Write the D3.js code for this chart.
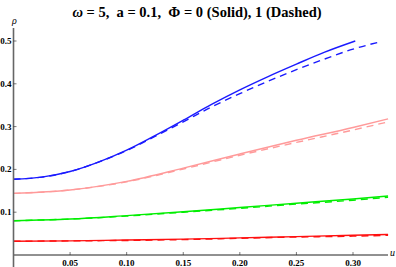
<!DOCTYPE html>
<html>
<head>
<meta charset="utf-8">
<script src="https://cdn.jsdelivr.net/npm/d3@7"></script>
<style>
  body { margin: 0; background: #fff; }
  svg { display: block; }
  text { font-family: "Liberation Serif", "DejaVu Serif", serif; }
</style>
</head>
<body>
<svg id="chart" width="396" height="267"></svg>
<script>
// === data ===
const uBlue      = [0, 0.025, 0.05, 0.075, 0.10, 0.125, 0.15, 0.175, 0.20, 0.225, 0.25, 0.275, 0.302];
const uBlueDash  = [0, 0.025, 0.05, 0.075, 0.10, 0.125, 0.15, 0.175, 0.20, 0.225, 0.25, 0.275, 0.30, 0.324];
const uOther     = [0, 0.05, 0.10, 0.15, 0.20, 0.25, 0.30, 0.331];
const blueSolid  = [0.177, 0.182, 0.195, 0.217, 0.245, 0.279, 0.315, 0.352, 0.386, 0.417, 0.446, 0.474, 0.500];
const blueDashed = [0.177, 0.182, 0.195, 0.217, 0.244, 0.277, 0.311, 0.346, 0.377, 0.406, 0.433, 0.458, 0.481, 0.498];
const pinkSolid  = [0.144, 0.152, 0.172, 0.203, 0.236, 0.268, 0.298, 0.318];
const pinkDashed = [0.144, 0.152, 0.171, 0.201, 0.233, 0.263, 0.292, 0.311];
const greenSolid = [0.080, 0.084, 0.092, 0.101, 0.111, 0.121, 0.131, 0.138];
const greenDashed= [0.080, 0.084, 0.091, 0.100, 0.109, 0.119, 0.128, 0.135];
const redSolid   = [0.032, 0.033, 0.035, 0.037, 0.040, 0.043, 0.046, 0.048];
const redDashed  = [0.032, 0.033, 0.034, 0.036, 0.039, 0.042, 0.044, 0.046];

const xTicks = [0.05, 0.10, 0.15, 0.20, 0.25, 0.30];
const yTicks = [0.1, 0.2, 0.3, 0.4, 0.5];

const series = [
  { u: uBlue, v: blueSolid, color: "#1a1aff", dash: null },
  { u: uBlueDash, v: blueDashed, color: "#1a1aff", dash: "7,5" },
  { u: uOther, v: pinkSolid, color: "#ff9a9a", dash: null },
  { u: uOther, v: pinkDashed, color: "#ff9a9a", dash: "7,5" },
  { u: uOther, v: greenSolid, color: "#00ee00", dash: null },
  { u: uOther, v: greenDashed, color: "#00ee00", dash: "7,5" },
  { u: uOther, v: redSolid, color: "#ff1010", dash: null },
  { u: uOther, v: redDashed, color: "#ff1010", dash: "7,5" }
];

// === layout ===
const svg = d3.select("#chart");
const x = d3.scaleLinear().domain([0, 0.3]).range([13.5, 353]);
const y = d3.scaleLinear().domain([0, 0.5]).range([255, 41]);

// title
svg.append("text")
  .attr("x", 197).attr("y", 17)
  .attr("text-anchor", "middle")
  .attr("xml:space", "preserve")
  .style("font-size", "14.5px").style("font-weight", "bold")
  .html('<tspan font-style="italic">ω</tspan> = 5,  a = 0.1,  Φ = 0 (Solid), 1 (Dashed)');

// curves
const line = d3.line().curve(d3.curveMonotoneX);
svg.append("g").selectAll("path")
  .data(series)
  .enter().append("path")
  .attr("d", s => line(s.u.map((u, i) => [x(u), y(s.v[i])])))
  .attr("fill", "none")
  .attr("stroke", s => s.color)
  .attr("stroke-width", 1.4)
  .attr("stroke-dasharray", s => s.dash);

// axes (Mathematica-style, crossing at origin)
const ax = svg.append("g");
ax.append("line")
  .attr("x1", x(0)).attr("x2", 388)
  .attr("y1", y(0)).attr("y2", y(0))
  .attr("stroke", "#222").attr("stroke-width", 1);
ax.append("line")
  .attr("x1", x(0)).attr("x2", x(0))
  .attr("y1", 28).attr("y2", 267)
  .attr("stroke", "#666").attr("stroke-width", 1.6);

// ticks
ax.selectAll(".xt").data(xTicks).enter().append("line")
  .attr("x1", d => x(d)).attr("x2", d => x(d))
  .attr("y1", y(0)).attr("y2", y(0) - 3)
  .attr("stroke", "#222").attr("stroke-width", 0.6);
ax.selectAll(".yt").data(yTicks).enter().append("line")
  .attr("x1", x(0)).attr("x2", x(0) + 3)
  .attr("y1", d => y(d)).attr("y2", d => y(d))
  .attr("stroke", "#222").attr("stroke-width", 0.6);

ax.selectAll(".xl").data(xTicks).enter().append("text")
  .attr("x", d => x(d)).attr("y", 265.5)
  .attr("text-anchor", "middle")
  .style("font-size", "9px").style("font-weight", "bold")
  .text(d => d3.format(".2f")(d));
ax.selectAll(".yl").data(yTicks).enter().append("text")
  .attr("x", 11.5).attr("y", d => y(d) + 3)
  .attr("text-anchor", "end")
  .style("font-size", "9px").style("font-weight", "bold")
  .text(d => d3.format(".1f")(d));

// axis labels
svg.append("text")
  .attr("x", 390).attr("y", 256)
  .style("font-size", "10px").style("font-style", "italic")
  .text("u");
svg.append("text")
  .attr("x", 12).attr("y", 24)
  .style("font-size", "10px").style("font-style", "italic")
  .text("ρ");
</script>
</body>
</html>
